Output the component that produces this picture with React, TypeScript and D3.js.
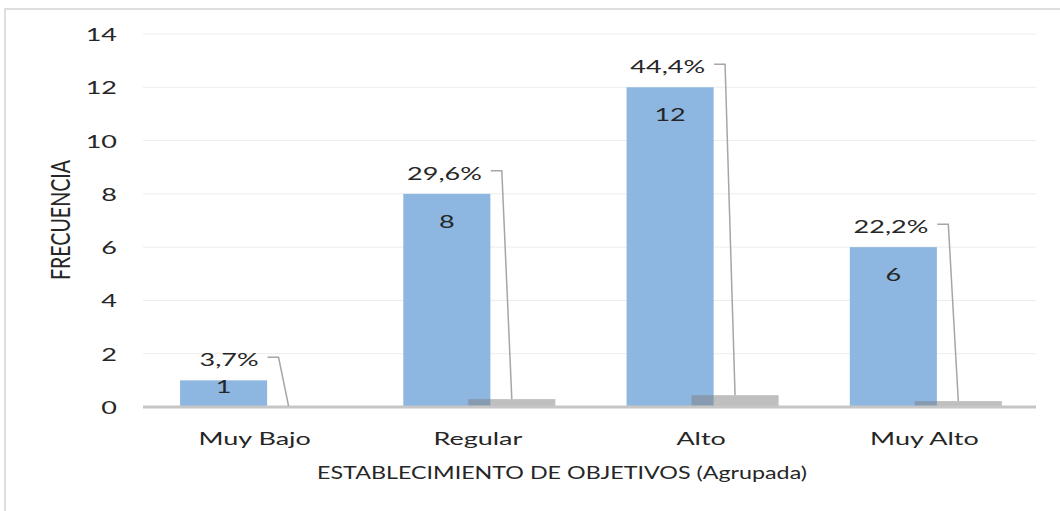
import React from 'react';
import * as d3 from 'd3';

const categories = ["Muy Bajo", "Regular", "Alto", "Muy Alto"];
const frecuencia = [1, 8, 12, 6];
const porcentaje = [3.7, 29.6, 44.4, 22.2];
const porcentajeLabels = ["3,7%", "29,6%", "44,4%", "22,2%"];
const yTicks = [0, 2, 4, 6, 8, 10, 12, 14];
const xTitle = "ESTABLECIMIENTO DE OBJETIVOS (Agrupada)";
const yTitle = "FRECUENCIA";

const W = 1060, H = 511;
const SX = 1.5;
const FONT = "Lato, 'Open Sans', sans-serif";
const TXT = "#262626";

function T({ x, y, anchor = "middle", size = 18, children, rotate = 0, len }: any) {
  return (
    <g transform={`translate(${x},${y}) scale(${SX},1)${rotate ? ` rotate(${rotate})` : ""}`}>
      <text textAnchor={anchor} dominantBaseline="central" fontSize={size} fontFamily={FONT} fill={TXT}
        {...(len ? { textLength: len, lengthAdjust: "spacingAndGlyphs" } : {})}>
        {children}
      </text>
    </g>
  );
}

export default function App() {
  const x = d3.scaleBand<string>().domain(categories).range([143, 1036]);
  const y = d3.scaleLinear().domain([0, 14]).range([407, 34]);
  const bw = x.bandwidth();
  const barW = bw * 0.39;
  const blueOff = bw * 0.166;
  const grayOff = bw * 0.457;
  const [x0, x1] = x.range();

  return (
    <svg width={W} height={H} style={{ position: 'absolute', left: 0, top: 0, background: '#fff' }}>
      <rect x={5} y={9} width={W} height={H} fill="#fff" stroke="#dedede" strokeWidth={2} />
      {yTicks.filter(t => t > 0).map(t => (
        <line key={t} x1={x0} x2={x1} y1={y(t)} y2={y(t)} stroke="#ececec" strokeWidth={1} />
      ))}
      {yTicks.map(t => (
        <T key={t} x={117} y={y(t)} anchor="end">{t}</T>
      ))}
      {categories.map((c, i) => {
        const bx = x(c)! + blueOff;
        return <rect key={'b' + c} x={bx} y={y(frecuencia[i])} width={barW} height={y(0) - y(frecuencia[i])} fill="#8db6e1" />;
      })}
      {categories.map((c, i) => {
        const gx = x(c)! + grayOff;
        return <rect key={'g' + c} x={gx} y={y(porcentaje[i] / 100)} width={barW} height={y(0) - y(porcentaje[i] / 100)} fill="#808080" fillOpacity={0.5} />;
      })}
      <line x1={x0} x2={x1} y1={y(0)} y2={y(0)} stroke="#c6c6c6" strokeWidth={3} />
      {categories.map((c, i) => {
        const bx = x(c)! + blueOff + barW / 2;
        const top = y(frecuencia[i]);
        const h = y(0) - top;
        return <T key={'v' + c} x={bx} y={top + Math.min(27, h * 0.22)}>{frecuencia[i]}</T>;
      })}
      {categories.map((c, i) => {
        const gc = x(c)! + grayOff + barW / 2;
        const yc = y(frecuencia[i]) - 21;
        const textEnd = gc - 30;
        const gTop = y(porcentaje[i] / 100);
        return (
          <g key={'p' + c}>
            <path d={`M${textEnd + 9},${yc - 2}H${gc - 10}L${gc},${gTop}`} fill="none" stroke="#a6a6a6" strokeWidth={1.5} />
            <T x={textEnd} y={yc} anchor="end">{porcentajeLabels[i]}</T>
          </g>
        );
      })}
      {categories.map(c => (
        <T key={'x' + c} x={x(c)! + bw / 2} y={438}>{c}</T>
      ))}
      <T x={562} y={472} len={490 / SX}>{xTitle}</T>
      <T x={59} y={220} rotate={-90} len={120}>{yTitle}</T>
    </svg>
  );
}
